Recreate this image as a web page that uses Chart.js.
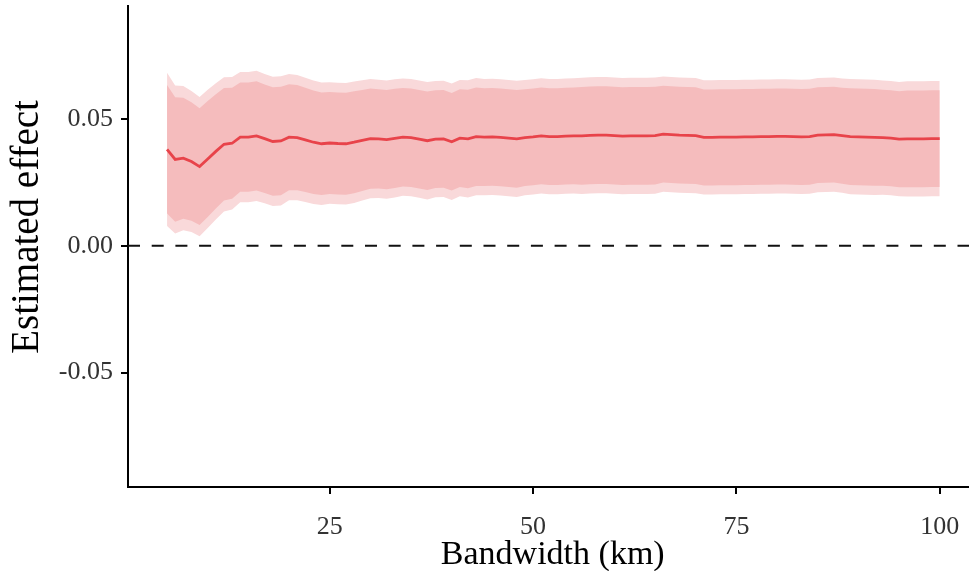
<!DOCTYPE html>
<html>
<head>
<meta charset="utf-8">
<script src="https://cdn.jsdelivr.net/npm/chart.js@4.4.1/dist/chart.umd.min.js"></script>
<style>
  html, body { margin: 0; padding: 0; background: #fff; overflow: hidden; }
  canvas { display: block; }
</style>
</head>
<body>
<canvas id="grafico" width="969" height="571"></canvas>
<script>
// bandwidth in km (x) and the point estimate / standard error
const bandwidthKm = [
   5,  6,  7,  8,  9, 10, 11, 12, 13, 14, 15, 16, 17, 18, 19, 20,
  21, 22, 23, 24, 25, 26, 27, 28, 29, 30, 31, 32, 33, 34, 35, 36,
  37, 38, 39, 40, 41, 42, 43, 44, 45, 46, 47, 48, 49, 50, 51, 52,
  53, 54, 55, 56, 57, 58, 59, 60, 61, 62, 63, 64, 65, 66, 67, 68,
  69, 70, 71, 72, 73, 74, 75, 76, 77, 78, 79, 80, 81, 82, 83, 84,
  85, 86, 87, 88, 89, 90, 91, 92, 93, 94, 95, 96, 97, 98, 99, 100
];

const estimate = [
  0.0380, 0.0340, 0.0345, 0.0332, 0.0312, 0.0342, 0.0372, 0.0400, 0.0404, 0.0428, 0.0428, 0.0433, 0.0422, 0.0411, 0.0413, 0.0428,
  0.0426, 0.0417, 0.0408, 0.0402, 0.0405, 0.0403, 0.0402, 0.0408, 0.0415, 0.0422, 0.0421, 0.0418, 0.0423, 0.0428, 0.0426, 0.0420,
  0.0414, 0.0420, 0.0421, 0.0410, 0.0424, 0.0421, 0.0430, 0.0428, 0.0429, 0.0427, 0.0424, 0.0421, 0.0426, 0.0429, 0.0433, 0.0430,
  0.0430, 0.0432, 0.0433, 0.0433, 0.0435, 0.0436, 0.0436, 0.0434, 0.0432, 0.0433, 0.0433, 0.0433, 0.0434, 0.0440, 0.0438, 0.0436,
  0.0435, 0.0434, 0.0427, 0.0427, 0.0428, 0.0428, 0.0428, 0.0429, 0.0429, 0.0430, 0.0430, 0.0431, 0.0431, 0.0430, 0.0429, 0.0430,
  0.0436, 0.0437, 0.0438, 0.0434, 0.0430, 0.0429, 0.0428, 0.0427, 0.0426, 0.0424, 0.0420, 0.0421, 0.0421, 0.0421, 0.0422, 0.0422
];

const stdError = [
  0.0154, 0.0149, 0.0145, 0.0142, 0.0140, 0.0139, 0.0137, 0.0135, 0.0133, 0.0131, 0.0131, 0.0131, 0.0130, 0.0130, 0.0130, 0.0127,
  0.0126, 0.0125, 0.0124, 0.0123, 0.0122, 0.0122, 0.0122, 0.0122, 0.0121, 0.0120, 0.0119, 0.0119, 0.0119, 0.0118, 0.0118, 0.0118,
  0.0118, 0.0117, 0.0117, 0.0117, 0.0117, 0.0118, 0.0118, 0.0117, 0.0117, 0.0117, 0.0117, 0.0117, 0.0116, 0.0116, 0.0116, 0.0116,
  0.0116, 0.0116, 0.0116, 0.0117, 0.0117, 0.0117, 0.0117, 0.0117, 0.0117, 0.0117, 0.0117, 0.0117, 0.0117, 0.0116, 0.0116, 0.0116,
  0.0116, 0.0116, 0.0115, 0.0115, 0.0115, 0.0115, 0.0115, 0.0115, 0.0115, 0.0115, 0.0115, 0.0115, 0.0115, 0.0115, 0.0115, 0.0115,
  0.0115, 0.0115, 0.0115, 0.0115, 0.0116, 0.0116, 0.0116, 0.0116, 0.0115, 0.0115, 0.0115, 0.0116, 0.0116, 0.0116, 0.0116, 0.0116
];

const xTicks = [25, 50, 75, 100];
const yTicks = [-0.05, 0, 0.05];

const z90 = 1.645;
const z95 = 1.96;

const pontos = (vals) => bandwidthKm.map((x, i) => ({ x, y: vals[i] }));
const lo95 = estimate.map((e, i) => e - z95 * stdError[i]);
const hi95 = estimate.map((e, i) => e + z95 * stdError[i]);
const lo90 = estimate.map((e, i) => e - z90 * stdError[i]);
const hi90 = estimate.map((e, i) => e + z90 * stdError[i]);

const serif = '"Liberation Serif", "DejaVu Serif", serif';

// dashed reference line at zero
const linhaZero = {
  id: 'linhaZero',
  afterDatasetsDraw(chart) {
    const { ctx, chartArea } = chart;
    const y = chart.scales.y.getPixelForValue(0);
    ctx.save();
    ctx.strokeStyle = '#111';
    ctx.lineWidth = 2.2;
    ctx.setLineDash([12, 11.7]);
    ctx.beginPath();
    ctx.moveTo(chartArea.left, y);
    ctx.lineTo(chartArea.right, y);
    ctx.stroke();
    ctx.restore();
  }
};

const banda = (vals, cor, fill, order) => ({
  data: pontos(vals),
  borderWidth: 0,
  borderColor: 'transparent',
  backgroundColor: cor,
  pointRadius: 0,
  tension: 0,
  fill,
  order
});

const ctx = document.getElementById('grafico');

const grafico = new Chart(ctx, {
  type: 'line',
  data: {
    datasets: [
      {
        label: 'Estimate',
        data: pontos(estimate),
        borderColor: '#e8434a',
        borderWidth: 2.8,
        pointRadius: 0,
        fill: false,
        tension: 0,
        order: 0
      },
      banda(hi90, '#f5bcbd', '+1', 1),
      banda(lo90, '#f5bcbd', false, 2),
      banda(hi95, '#f9d9da', '+1', 3),
      banda(lo95, '#f9d9da', false, 4)
    ]
  },
  options: {
    responsive: false,
    animation: false,
    layout: { padding: { top: 6, right: 0, left: 0, bottom: 0 } },
    plugins: {
      legend: { display: false },
      tooltip: { enabled: false }
    },
    scales: {
      x: {
        type: 'linear',
        min: 0.2,
        max: 103.6,
        afterBuildTicks: (scale) => { scale.ticks = xTicks.map(v => ({ value: v })); },
        afterFit: (scale) => {
          scale.height = 84;
          scale.paddingLeft = 0;
          scale.paddingRight = 0;
        },
        border: { display: true, color: '#000', width: 2 },
        grid: { drawOnChartArea: false, drawTicks: true, tickLength: 7, color: '#000', lineWidth: 2 },
        ticks: {
          font: { family: serif, size: 26 },
          color: '#333',
          padding: 18,
          maxRotation: 0,
          callback: (v) => String(v)
        },
        title: {
          display: true,
          text: ' Bandwidth (km)',
          font: { family: serif, size: 34, lineHeight: 0.95 },
          color: '#000',
          padding: { top: 0, bottom: 0 }
        }
      },
      y: {
        min: -0.0951,
        max: 0.0945,
        afterBuildTicks: (scale) => { scale.ticks = yTicks.map(v => ({ value: v })); },
        afterFit: (scale) => {
          scale.width = 128;
          scale.paddingTop = 0;
          scale.paddingBottom = 0;
        },
        border: { display: true, color: '#000', width: 2 },
        grid: { drawOnChartArea: false, drawTicks: true, tickLength: 7, color: '#000', lineWidth: 2 },
        ticks: {
          font: { family: serif, size: 26 },
          color: '#333',
          padding: 8,
          callback: (v) => Number(v).toFixed(2)
        },
        title: {
          display: true,
          text: '    Estimated effect',
          font: { family: serif, size: 39 },
          color: '#000',
          padding: { top: 4, bottom: 0 }
        }
      }
    }
  },
  plugins: [linhaZero]
});
</script>
</body>
</html>
